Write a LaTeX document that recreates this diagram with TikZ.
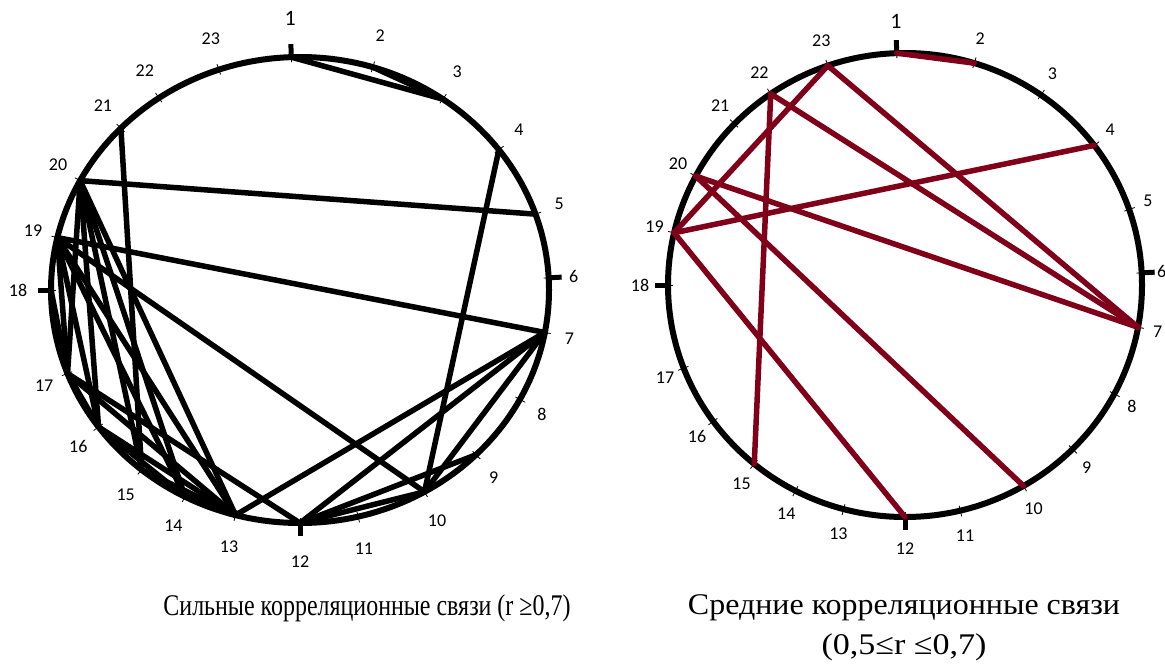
\documentclass[tikz,border=0pt]{standalone}
\usepackage{fontspec}
\setmainfont{Liberation Serif}
\newfontfamily\numfont{Carlito}
\definecolor{CorBlack}{HTML}{000000}
\definecolor{CorRed}{HTML}{80001A}
\newcommand{\CorAngles}{1/-92/22/6,2/-73/18/0,3/-55/18/0,4/-37/18/0,5/-19/18/0,6/-3/18/0,7/10.5/18/0,8/28/18/0,9/45/18/0,10/60/18/0,11/76.5/18/0,12/90/18/6,13/105/18/0,14/117.5/18/0,15/129.5/18/0,16/144/18/0,17/159/18/0,18/180/18/8,19/193/18/0,20/208/18/0,21/224/18/0,22/235.5/18/0,23/251/18/0}
\newcommand{\CorDial}[6]{%
  \coordinate (#1C) at (#2);
  \draw[rim] (#1C) ellipse [x radius=#3, y radius=#4];
  \foreach \n/\a/\s/\g in \CorAngles {
    \coordinate (#1\n) at ([shift={(\a:#3 and #4)}]#1C);
    \draw[smalltick] ([shift={(\a:#3-5 and #4-5)}]#1C) -- ([shift={(\a:#3+6 and #4+6)}]#1C);
    \node[font=\numfont\fontsize{\s}{\s}\selectfont,inner sep=0pt] (#1N\n) at ([shift={(\a:#5+\g+0 and #6+\g+0)}]#1C) {\n};
  }
  \foreach \n/\a in {1/-92,6/-3,12/90,18/180}
    \draw[bigtick] ([shift={(\a:#3 and #4)}]#1C) -- ([shift={(\a:#3+13 and #4+13)}]#1C);
}
\tikzset{
  rim/.style={line width=6pt,CorBlack},
  smalltick/.style={line width=0.8pt,CorBlack},
  bigtick/.style={line width=5pt,CorBlack},
  strong/.style={line width=5.5pt,line cap=round,CorBlack},
  medium/.style={line width=5.5pt,line cap=round,CorRed},
  caption/.style={font=\fontsize{30}{40}\selectfont,inner sep=0pt,align=center}
}

\begin{document}
\begin{tikzpicture}[x=1pt,y=-1pt]
\path[use as bounding box] (0,0) rectangle (1165,664);
\CorDial{L}{300,290}{249}{233}{274}{266}
\CorDial{R}{905,285}{237}{232}{257}{258}
\foreach \p/\q in {1/3,2/3,20/5,21/15,4/10,19/7,19/10,7/13,7/12,7/10,12/10,12/9,20/17,20/16,20/15,20/14,20/13,19/17,19/16,19/14,19/13,18/17,17/16,17/13,17/12,16/13,16/14,15/13}
  \draw[strong] (L\p) -- (L\q);
\foreach \p/\q in {1/2,23/19,23/7,22/15,22/7,20/7,20/10,19/4,19/12}
  \draw[medium] (R\p) -- (R\q);
\node[caption] (LCap) at (367,608) {\resizebox{407pt}{\height}{Сильные корреляционные связи (r ≥0,7)}};
\node[caption] (RCap) at (904,628) {\resizebox{432pt}{\height}{Средние корреляционные связи}\\\resizebox{165pt}{\height}{(0,5≤r ≤0,7)}};
\end{tikzpicture}
\end{document}
